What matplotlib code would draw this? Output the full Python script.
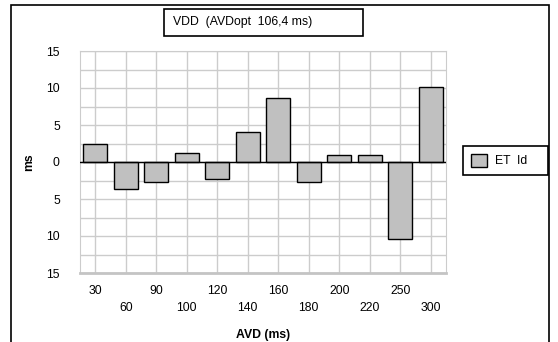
import numpy as np
import matplotlib.pyplot as plt
from matplotlib.patches import Rectangle

plt.rcParams['font.family'] = ['Liberation Sans', 'DejaVu Sans']

avd = ['30', '60', '90', '100', '120', '140', '160', '180', '200', '220', '250', '300']
et_id = [2.4, -3.6, -2.75, 1.2, -2.25, 4.0, 8.6, -2.75, 0.9, 0.9, -10.4, 10.1]

bar_color = '#c0c0c0'
fs = 8.8

fig = plt.figure(figsize=(5.58, 3.42), dpi=100)
W, H = 558, 342


def fx(px):
    return px / W


def fy(py):
    return 1 - py / H


ax = fig.add_axes([fx(80), fy(273), 366 / W, 222 / H])

x = np.arange(len(avd))
ax.bar(x, et_id, width=0.8, color=bar_color, edgecolor='black', linewidth=1.0, zorder=3)
ax.axhline(0, color='black', linewidth=1.0, zorder=4)

ax.set_xlim(-0.5, len(avd) - 0.5)
ax.set_ylim(-15, 15)
ax.set_yticks([-15, -10, -5, 0, 5, 10, 15])
ax.set_yticklabels(['15', '10', '5', '0', '5', '10', '15'])
ax.set_yticks(np.arange(-15, 15.1, 2.5), minor=True)
ax.set_xticks(x)
ax.set_xticklabels([s if i % 2 == 0 else '\n' + s for i, s in enumerate(avd)],
                   linespacing=1.5)
ax.tick_params(axis='both', which='both', length=0, labelsize=fs)
ax.tick_params(axis='x', pad=9)
ax.tick_params(axis='y', pad=14.5)
ax.grid(True, which='both', color='#cccccc', linewidth=1.0, zorder=0)
for side in ['top', 'left', 'right']:
    ax.spines[side].set_color('#cccccc')
ax.spines['bottom'].set_color('#c4c4c4')
ax.spines['bottom'].set_linewidth(2)

ax.set_xlabel('AVD (ms)', fontsize=fs, fontweight='bold')
ax.xaxis.set_label_coords((263 - 80) / 366, -(329 - 273) / 222)
ax.set_ylabel('ms', fontsize=fs, fontweight='bold')
ax.yaxis.set_label_coords((35 - 80) / 366, 0.5)

# title box
fig.patches.append(Rectangle((fx(164), fy(36)), 199 / W, 27 / H,
                             transform=fig.transFigure, fc='white', ec='black', lw=1.2))
fig.text(fx(173), fy(22.5), 'VDD  (AVDopt  106,4 ms)', fontsize=fs, ha='left', va='center')

# legend box
fig.patches.append(Rectangle((fx(463), fy(175)), 85 / W, 29 / H,
                             transform=fig.transFigure, fc='white', ec='black', lw=1.2))
fig.patches.append(Rectangle((fx(471), fy(167)), 16 / W, 13 / H,
                             transform=fig.transFigure, fc=bar_color, ec='black', lw=1.0))
fig.text(fx(495), fy(161), 'ET  Id', fontsize=fs, ha='left', va='center')

# outer chart frame
fig.patches.append(Rectangle((fx(11), -0.1), 538 / W, fy(5) + 0.1,
                             transform=fig.transFigure, fill=False, ec='black', lw=1.2))

fig.savefig('out.png', dpi=100)
